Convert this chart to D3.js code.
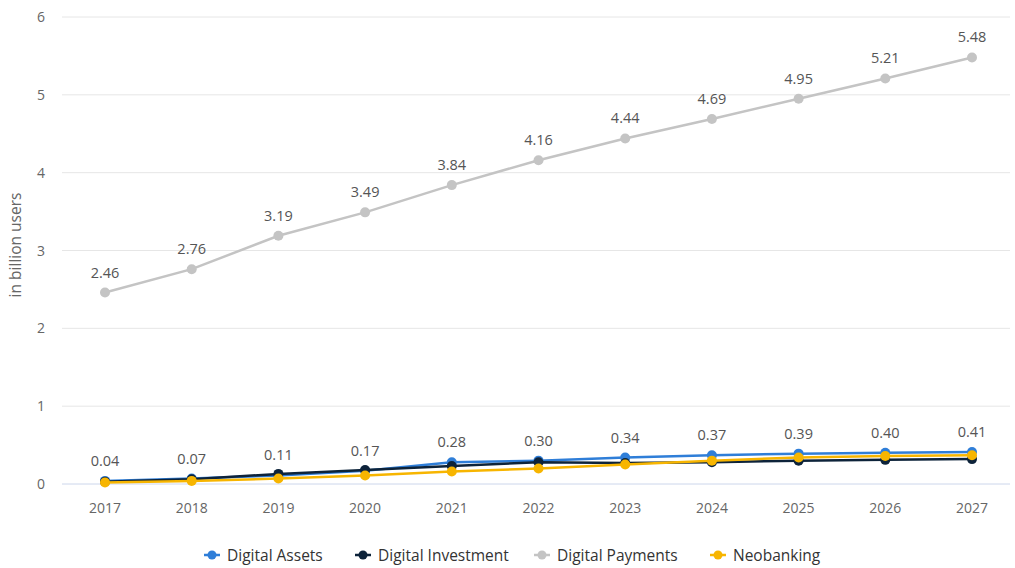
<!DOCTYPE html>
<html><head><meta charset="utf-8">
<script src="https://cdn.jsdelivr.net/npm/d3@7"></script>
<style>body{margin:0;background:#fff;}svg{display:block;font-family:"Open Sans","DejaVu Sans",sans-serif;}</style>
</head><body>
<svg id="c" width="1015" height="568"></svg>
<script>
const years = ["2017","2018","2019","2020","2021","2022","2023","2024","2025","2026","2027"];
const digitalAssets = [0.04,0.07,0.11,0.17,0.28,0.30,0.34,0.37,0.39,0.40,0.41];
const digitalInvestment = [0.03,0.06,0.13,0.18,0.23,0.28,0.27,0.28,0.30,0.31,0.32];
const digitalPayments = [2.46,2.76,3.19,3.49,3.84,4.16,4.44,4.69,4.95,5.21,5.48];
const neobanking = [0.02,0.04,0.07,0.11,0.16,0.20,0.25,0.30,0.34,0.36,0.37];
const yTicks = [0,1,2,3,4,5,6];
const seriesNames = ["Digital Assets","Digital Investment","Digital Payments","Neobanking"];
const seriesColors = ["#2f7ed8","#0d233a","#c4c4c4","#f7b500"];
const labeled = [true,false,true,false];

const series = [digitalAssets,digitalInvestment,digitalPayments,neobanking];
const svg = d3.select("#c");
const x = d3.scalePoint().domain(years).range([105,972]);
const y = d3.scaleLinear().domain([0,6]).range([484,17]);

// grid
svg.append("g").selectAll("line").data(yTicks).join("line")
  .attr("x1",62).attr("x2",1010)
  .attr("y1",d=>y(d)).attr("y2",d=>y(d))
  .attr("stroke",d=>d===0?"#ccd6eb":"#e6e6e6").attr("stroke-width",1);
svg.append("g").selectAll("text").data(yTicks).join("text")
  .attr("x",45).attr("y",d=>y(d)+5).attr("text-anchor","end")
  .attr("font-size",14).attr("fill","#666").text(d=>d);
svg.append("text").attr("transform","translate(21,245) rotate(-90)")
  .attr("text-anchor","middle").attr("font-size",15.5).attr("fill","#666")
  .text("in billion users");
svg.append("g").selectAll("text").data(years).join("text")
  .attr("x",d=>x(d)).attr("y",513).attr("text-anchor","middle")
  .attr("font-size",14).attr("fill","#666").text(d=>d);

const line = d3.line().x((d,i)=>x(years[i])).y(d=>y(d));
series.forEach((s,k)=>{
  const g = svg.append("g");
  g.append("path").datum(s).attr("d",line).attr("fill","none")
    .attr("stroke",seriesColors[k]).attr("stroke-width",2.5);
  g.selectAll("circle").data(s).join("circle")
    .attr("cx",(d,i)=>x(years[i])).attr("cy",d=>y(d)).attr("r",5)
    .attr("fill",seriesColors[k]);
});
series.forEach((s,k)=>{
  if(!labeled[k]) return;
  svg.append("g").selectAll("text").data(s).join("text")
    .attr("x",(d,i)=>x(years[i])).attr("y",d=>y(d)-15)
    .attr("text-anchor","middle").attr("font-size",14.5).attr("fill","#555")
    .text(d=>d.toFixed(2));
});

// legend
const legendX = [212,363,542,718];
const lg = svg.append("g");
seriesNames.forEach((n,k)=>{
  const cx = legendX[k];
  lg.append("line").attr("x1",cx-8).attr("x2",cx+8).attr("y1",555).attr("y2",555)
    .attr("stroke",seriesColors[k]).attr("stroke-width",2.5);
  lg.append("circle").attr("cx",cx).attr("cy",555).attr("r",4.5).attr("fill",seriesColors[k]);
  lg.append("text").attr("x",cx+15).attr("y",560.5).attr("font-size",15.5)
    .attr("fill","#333").text(n);
});
</script>
</body></html>
